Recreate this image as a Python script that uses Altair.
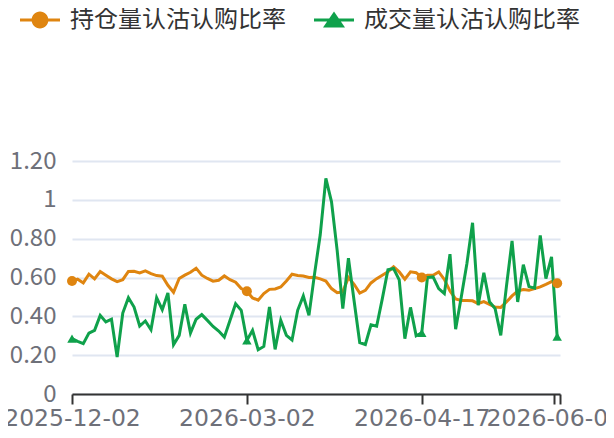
import altair as alt
import pandas as pd

FONT = "Noto Sans CJK SC"
XFONT = "DejaVu Sans"

series_names = ["持仓量认沽认购比率", "成交量认沽认购比率"]
series_colors = ["#DF8510", "#0FA14B"]

oi_ratio = [
    0.582, 0.591, 0.572, 0.617, 0.593, 0.631, 0.612, 0.593, 0.579, 0.589,
    0.631, 0.632, 0.624, 0.634, 0.620, 0.610, 0.607, 0.560, 0.524, 0.595,
    0.612, 0.627, 0.648, 0.612, 0.595, 0.581, 0.586, 0.608, 0.589, 0.576,
    0.543, 0.529, 0.495, 0.483, 0.517, 0.539, 0.541, 0.551, 0.582, 0.617,
    0.610, 0.608, 0.600, 0.601, 0.593, 0.582, 0.543, 0.522, 0.526, 0.600,
    0.565, 0.520, 0.534, 0.572, 0.594, 0.612, 0.629, 0.655, 0.629, 0.591,
    0.629, 0.625, 0.600, 0.612, 0.612, 0.629, 0.590, 0.530, 0.490, 0.482,
    0.482, 0.480, 0.466, 0.476, 0.462, 0.448, 0.446, 0.474, 0.505, 0.530,
    0.538, 0.534, 0.543, 0.552, 0.565, 0.579, 0.570,
]

vol_ratio = [
    0.285, 0.271, 0.259, 0.314, 0.328, 0.405, 0.371, 0.385, 0.190, 0.417,
    0.496, 0.448, 0.350, 0.376, 0.331, 0.496, 0.434, 0.520, 0.254, 0.302,
    0.462, 0.314, 0.385, 0.409, 0.379, 0.348, 0.324, 0.293, 0.379, 0.465,
    0.431, 0.276, 0.328, 0.228, 0.245, 0.448, 0.230, 0.380, 0.302, 0.278,
    0.431, 0.505, 0.405, 0.620, 0.820, 1.110, 0.990, 0.740, 0.440, 0.700,
    0.480, 0.265, 0.255, 0.356, 0.349, 0.490, 0.640, 0.646, 0.588, 0.285,
    0.446, 0.300, 0.315, 0.600, 0.603, 0.543, 0.517, 0.720, 0.334, 0.500,
    0.672, 0.882, 0.457, 0.624, 0.475, 0.440, 0.302, 0.553, 0.788, 0.474,
    0.666, 0.553, 0.545, 0.817, 0.594, 0.706, 0.296,
]

marker_idx = [0, 31, 62, 86]

tick_pos = [0, 31, 62, 85.5, 86.5]
tick_text = ["2025-12-02", "2026-03-02", "2026-04-17", "2026-06-02", ""]

y_ticks = [0, 0.2, 0.4, 0.6, 0.8, 1.0, 1.2]

rows = []
for name, vals in zip(series_names, [oi_ratio, vol_ratio]):
    for i, v in enumerate(vals):
        rows.append({"idx": i, "value": v, "series": name, "marker": i in marker_idx})
df = pd.DataFrame(rows)

label_expr = "''"
for p, t in reversed(list(zip(tick_pos, tick_text))):
    label_expr = f"datum.value == {p} ? '{t}' : ({label_expr})"

# legend icons: line with circle / line with triangle (unit square -1..1)
P1 = ("M-1,-0.08L1,-0.08L1,0.08L-1,0.08Z "
      "M-0.42,0A0.42,0.42 0 1,1 0.42,0A0.42,0.42 0 1,1 -0.42,0Z")
P2 = ("M-1,-0.08L1,-0.08L1,0.08L-1,0.08Z "
      "M0,-0.42L0.55,0.38L-0.55,0.38Z")

x_enc = alt.X(
    "idx:Q",
    scale=alt.Scale(domain=[0, 86.5], nice=False, zero=False),
    axis=alt.Axis(
        values=tick_pos, labelExpr=label_expr, title=None, grid=False,
        domain=True, domainColor="#333333", domainWidth=2,
        ticks=True, tickColor="#333333", tickWidth=2, tickSize=10,
        labelFont=XFONT, labelFontSize=23.5, labelColor="#6E7079",
        labelPadding=2, labelOverlap=False, labelFlush=False,
    ),
)
y_enc = alt.Y(
    "value:Q",
    scale=alt.Scale(domain=[0, 1.2], nice=False, zero=True),
    axis=alt.Axis(
        values=y_ticks,
        labelExpr="datum.value == 0 ? '0' : (datum.value == 1 ? '1' : format(datum.value, '.2f'))",
        title=None, domain=False, ticks=False, grid=True,
        gridColor="#E0E6F1", gridWidth=2,
        labelFont=FONT, labelFontSize=24, labelColor="#6E7079", labelPadding=16,
    ),
)

legend_common = dict(
    title=None, orient="none", legendY=-161, direction="horizontal",
    symbolSize=1600, symbolStrokeWidth=0, symbolOpacity=1,
    labelFont=FONT, labelFontSize=24, labelColor="#333333",
    labelOffset=10, labelLimit=400, padding=0,
)

lines = alt.Chart(df).mark_line(strokeWidth=3, interpolate="linear").encode(
    x=x_enc, y=y_enc,
    color=alt.Color("series:N", scale=alt.Scale(domain=series_names, range=series_colors), legend=None),
    order=alt.Order("idx:Q"),
)

oi_points = alt.Chart(df).transform_filter(
    f"datum.marker && datum.series == '{series_names[0]}'"
).mark_point(filled=True, opacity=1, size=100, shape="circle").encode(
    x=x_enc, y=y_enc,
    fill=alt.Fill(
        "series:N",
        scale=alt.Scale(domain=[series_names[0]], range=[series_colors[0]]),
        legend=alt.Legend(legendX=-52, symbolType=P1, **legend_common),
    ),
)

vol_points = alt.Chart(df).transform_filter(
    f"datum.marker && datum.series == '{series_names[1]}'"
).mark_point(filled=True, opacity=1, size=90, shape="triangle-up",
             fill=series_colors[1], strokeWidth=0).encode(
    x=x_enc, y=y_enc,
    stroke=alt.Stroke(
        "series:N",
        scale=alt.Scale(domain=[series_names[1]], range=[series_colors[1]]),
        legend=alt.Legend(legendX=242, symbolType=P2, **legend_common),
    ),
)

chart = alt.layer(lines, oi_points, vol_points).resolve_scale(
    fill="independent", stroke="independent"
).properties(
    width=488, height=233,
    autosize=alt.AutoSizeParams(type="none"),
    padding={"left": 64, "top": 153, "right": 46, "bottom": 38},
    background="white",
).configure_view(stroke=None)

chart.save("out.html", embed_options={"renderer": "svg", "actions": False})
